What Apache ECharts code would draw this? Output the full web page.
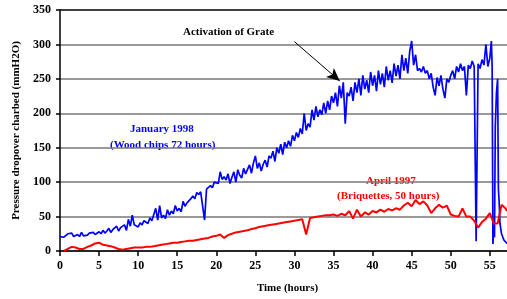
<!DOCTYPE html>
<html>
<head>
<meta charset="utf-8">
<script src="https://cdn.jsdelivr.net/npm/echarts@6/dist/echarts.min.js"></script>
<style>
html, body { margin: 0; padding: 0; background: #fff; }
#chart { width: 507px; height: 299px; }
</style>
</head>
<body>
<div id="chart"></div>
<script>
// January 1998, wood chips - readings every 0.25 h from 0 to 55 h
var blueStep = 0.25;
var blueVals = [
  21, 22, 20, 22,   25, 23, 26, 21,   19, 24, 21, 27,   22, 24, 23, 26,
  25, 27, 24, 26,   28, 25, 30, 26,   29, 33, 27, 31,   30, 36, 29, 34,
  33, 38, 30, 46,   36, 52, 38, 40,   35, 41, 38, 44,   43, 40, 48, 44,
  46, 62, 45, 66,   48, 52, 47, 60,   52, 58, 54, 66,   58, 62, 57, 72,
  65, 70, 68, 76,   80, 76, 85, 82,   86, 84, 45, 90,   88, 95, 92, 100,
  102, 98, 115, 104, 108, 103, 112, 98, 107, 115, 100, 118, 110, 106, 120, 112,
  114, 125, 113, 128, 138, 120, 128, 116, 126, 132, 122, 138, 135, 145, 130, 150,
  142, 155, 140, 158, 150, 160, 152, 168, 160, 172, 165, 178, 170, 200, 175, 185,
  180, 205, 190, 210, 195, 205, 198, 215, 200, 218, 205, 225, 215, 230, 210, 240,
  222, 245, 185, 230, 225, 238, 218, 245, 230, 250, 226, 255, 235, 248, 230, 260,
  240, 255, 232, 262, 242, 258, 238, 268, 248, 262, 244, 272, 254, 270, 250, 285,
  262, 280, 258, 290, 305, 270, 285, 262, 265, 260, 268, 258, 262, 250, 258, 238,
  226, 252, 240, 255, 235, 222, 250, 245, 255, 262, 250, 268, 260, 272, 262, 268,
  226, 270, 265, 276, 268, 14, 272, 265, 278, 270, 300, 268, 280
];
// final part, irregular times
var blueTailT = [55.2, 55.3, 55.4, 55.5, 55.6, 55.7, 55.85, 56.0, 56.1, 56.2, 56.3, 56.5, 56.8, 57.2];
var blueTailV = [305, 268, 10, 30, 20, 180, 230, 250, 90, 70, 40, 25, 16, 11];

// April 1997, briquettes - readings every 0.5 h from 0.5 h
var redStart = 0.5;
var redStep = 0.5;
var redVals = [
  0, 3, 6, 5, 3, 3, 6, 8, 11, 12,
  9, 8, 7, 5, 3, 2, 3, 4, 5, 5,
  5, 6, 6, 7, 8, 9, 10, 11, 12, 12,
  13, 14, 15, 15, 16, 17, 18, 19, 21, 22,
  24, 19, 23, 25, 27, 28, 29, 30, 32, 33,
  35, 36, 37, 38, 39, 40, 41, 42, 43, 44,
  45, 46, 24, 48, 49, 50, 51, 52, 52, 53,
  51, 54, 52, 58, 47, 60, 50, 56, 53, 58,
  56, 60, 57, 61, 59, 62, 60, 66, 70, 65,
  74, 68, 72, 66, 55, 62, 67, 63, 66, 53,
  51, 50, 62, 50, 50, 44, 34, 42, 47, 55,
  40, 40, 67, 62
];
var redEndT = 57.2;
var redEndV = 58;

var xTicks = 5;
var yTicks = 50;

var blueData = blueVals.map(function (v, i) { return [i * blueStep, v]; });
blueTailT.forEach(function (t, i) { blueData.push([t, blueTailV[i]]); });
var redData = redVals.map(function (v, i) { return [redStart + i * redStep, v]; });
redData.push([redEndT, redEndV]);

var serif = 'Liberation Serif';
var chart = echarts.init(document.getElementById('chart'));

var option = {
  animation: false,
  backgroundColor: '#fff',
  grid: { left: 60, right: 0, top: 10, bottom: 44 },
  xAxis: {
    type: 'value', min: 0, max: 57.2, interval: xTicks,
    name: 'Time (hours)', nameLocation: 'middle', nameGap: 32,
    nameTextStyle: { fontFamily: serif, fontWeight: 'bold', fontSize: 11, color: '#000', padding: [0, 0, 0, 8] },
    axisLine: { lineStyle: { color: '#000', width: 1.5 } },
    axisTick: { length: 5, lineStyle: { color: '#000', width: 1.5 } },
    axisLabel: { fontFamily: serif, fontWeight: 'bold', fontSize: 12, color: '#000', margin: 9, showMaxLabel: false },
    splitLine: { show: false }
  },
  yAxis: {
    type: 'value', min: 0, max: 350, interval: yTicks,
    name: 'Pressure dropover charbed (mmH2O)', nameLocation: 'middle', nameGap: 34,
    nameTextStyle: { fontFamily: serif, fontWeight: 'bold', fontSize: 11, color: '#000' },
    axisLine: { show: true, lineStyle: { color: '#000', width: 1.5 } },
    axisTick: { show: true, length: 4, lineStyle: { color: '#000', width: 1.5 } },
    axisLabel: { fontFamily: serif, fontWeight: 'bold', fontSize: 12, color: '#000', margin: 9 },
    splitLine: { show: true, lineStyle: { color: ['#777', '#777', '#777', '#777', '#777', '#777', '#777', '#000'], width: 1.5 } }
  },
  series: [
    {
      name: 'January 1998', type: 'line', data: blueData, showSymbol: false,
      lineStyle: { color: '#0000ff', width: 1.7 }, itemStyle: { color: '#0000ff' },
      markLine: {
        silent: true, symbol: ['none', 'arrow'], symbolSize: [9, 13],
        label: { show: false },
        lineStyle: { color: '#000', width: 1, type: 'solid' },
        data: [[{ coord: [30.0, 304] }, { coord: [35.8, 247] }]]
      }
    },
    {
      name: 'April 1997', type: 'line', data: redData, showSymbol: false,
      lineStyle: { color: '#ff0000', width: 2 }, itemStyle: { color: '#ff0000' }
    }
  ],
  graphic: [
    { type: 'text', left: 183, top: 27, style: { text: 'Activation of Grate', fill: '#000', font: 'bold 11px "Liberation Serif"' } },
    { type: 'text', left: 130, top: 124, style: { text: 'January 1998', fill: '#0000ff', font: 'bold 11px "Liberation Serif"' } },
    { type: 'text', left: 110, top: 140, style: { text: '(Wood chips 72 hours)', fill: '#0000ff', font: 'bold 11px "Liberation Serif"' } },
    { type: 'text', left: 366, top: 176, style: { text: 'April 1997', fill: '#ff0000', font: 'bold 11px "Liberation Serif"' } },
    { type: 'text', left: 337, top: 191, style: { text: '(Briquettes, 50 hours)', fill: '#ff0000', font: 'bold 11px "Liberation Serif"' } }
  ]
};
chart.setOption(option);
</script>
</body>
</html>
